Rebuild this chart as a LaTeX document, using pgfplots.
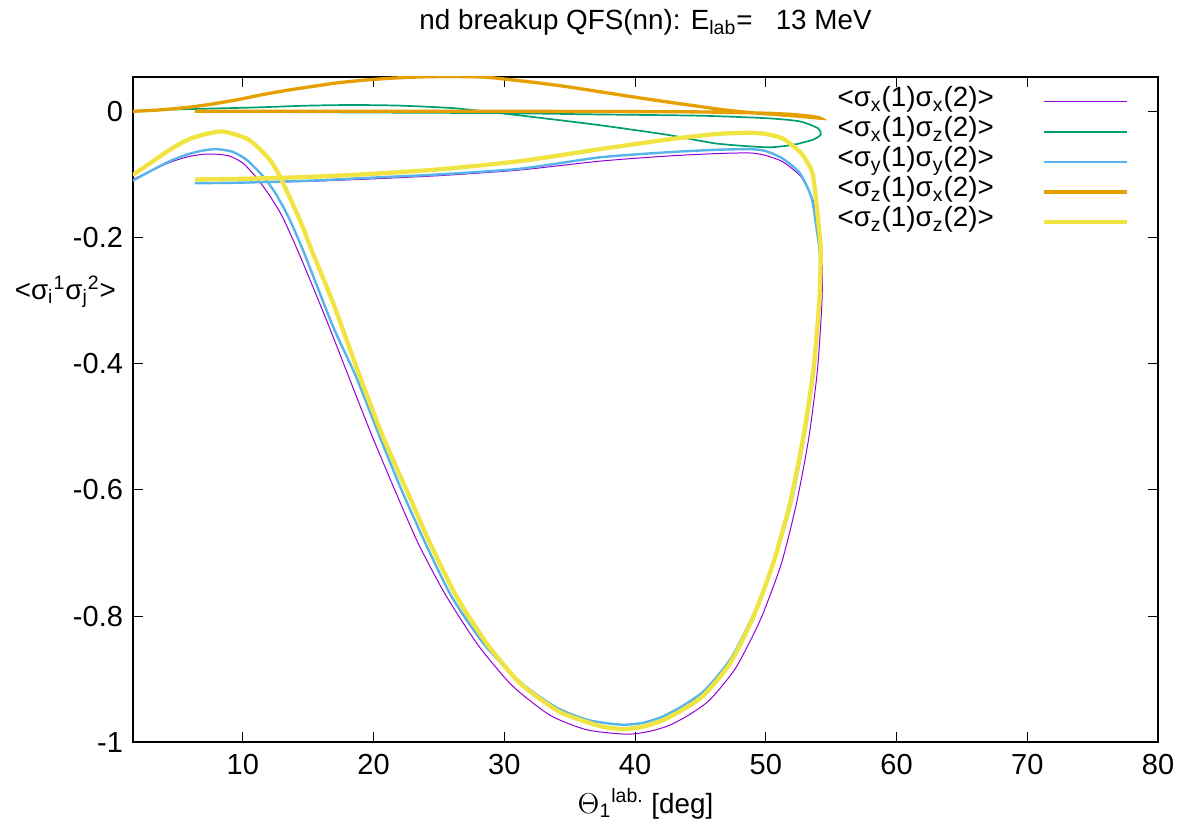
\documentclass[border=0pt]{standalone}
\usepackage{pgfplots}
\pgfplotsset{compat=1.18}
\usepackage{fontspec}
\setmainfont{Liberation Sans}
\definecolor{cpurple}{HTML}{9400D3}
\definecolor{cgreen}{HTML}{009E73}
\definecolor{cblue}{HTML}{56B4E9}
\definecolor{corange}{HTML}{E69F00}
\definecolor{cyellow}{HTML}{F0E442}
\newcommand{\sub}[1]{\textsubscript{#1}}
\newcommand{\super}[1]{\textsuperscript{#1}}
\begin{document}
\begin{tikzpicture}[font=\fontsize{13.9bp}{16bp}\selectfont]
\useasboundingbox (0,0) rectangle (600bp,420bp);
\begin{axis}[
  at={(66.5bp,48.8bp)}, anchor=south west,
  width=512.5bp, height=332.9bp, scale only axis,
  xmin=1.6, xmax=80, ymin=-1, ymax=0.055,
  xtick={10,20,30,40,50,60,70,80},
  xticklabels={10,20,30,40,50,60,70,80},
  ytick={-1,-0.8,-0.6,-0.4,-0.2,0},
  yticklabels={-1,-0.8,-0.6,-0.4,-0.2,0},
  tick align=inside, tick pos=both,
  major tick length=5bp,
  every tick/.style={black, line width=0.5bp},
  axis line style={line width=1bp},
  /pgf/number format/assume math mode=true,
  tick label style={font=\fontsize{14.5bp}{16bp}\selectfont},
  xticklabel style={yshift=-2.5bp},
  yticklabel style={xshift=-1.5bp},
  xlabel={$\Theta$\sub{1}\super{lab.} [deg]},
  xlabel style={at={(axis description cs:0.5,-0.0925)}, anchor=center},
  ylabel={<σ\sub{i}\super{1}σ\sub{j}\super{2}>},
  ylabel style={at={(axis description cs:-0.066,0.677)}, rotate=-90, anchor=center},
  title={nd breakup QFS(nn): E\sub{lab}=\ \ \ 13 MeV},
  title style={at={(axis description cs:0.5,1.063)}, anchor=center},
  legend cell align=left,
  legend plot pos=right,
  legend image code/.code={\draw[#1] (0bp,0bp) -- (41.5bp,0bp);},
  legend style={at={(axis description cs:0.687,0.985)}, anchor=north west,
    draw=none, fill=none, inner sep=0pt, row sep=0pt,
    nodes={inner sep=0pt, text height=10bp, text depth=5bp},
    /tikz/every odd column/.append style={column sep=24bp}},
]
% sigma_x sigma_x
\addplot[cpurple, line width=0.5bp, smooth, tension=0.4] coordinates {
(1.58,-0.108) (3.0,-0.094) (4.41,-0.081) (5.8,-0.072) (7.0,-0.068) (8.0,-0.068)
(9.0,-0.071) (10.0,-0.082) (11.0,-0.104) (12.0,-0.132) (13.0,-0.166) (14.1,-0.216)
(15.2,-0.270) (16.5,-0.336) (17.9,-0.410) (19.7,-0.505) (21.5,-0.594) (23.4,-0.684)
(25.5,-0.766) (28.0,-0.846) (30.6,-0.910) (33.5,-0.957) (36.3,-0.980) (39.3,-0.987)
(41.0,-0.983) (42.5,-0.974) (44.0,-0.958) (45.7,-0.933) (47.7,-0.882) (49.6,-0.805)
(51.2,-0.716) (52.35,-0.621) (53.3,-0.516) (53.95,-0.410) (54.3,-0.300) (54.3,-0.230)
(54.05,-0.190) (53.6,-0.140) (52.7,-0.104) (51.3,-0.080) (50.0,-0.070) (48.8,-0.066)
(46.2,-0.067) (42.4,-0.071) (37.3,-0.079) (31.2,-0.093) (25,-0.102) (20,-0.107)
(15,-0.111) (10,-0.113) (6.33,-0.114)
};
\addlegendentry{<σ\sub{x}(1)σ\sub{x}(2)>}
% sigma_x sigma_z
\addplot[cgreen, line width=0.85bp, smooth, tension=0.4] coordinates {
(1.58,0.000) (5,0.003) (10.8,0.006) (15,0.009) (18.4,0.010) (22,0.009) (26.1,0.005)
(29.7,-0.003) (33,-0.011) (37.3,-0.022) (42.4,-0.037) (46.2,-0.051) (50.1,-0.057)
(52.1,-0.053) (53.6,-0.045) (54.2,-0.037) (54.0,-0.027) (52.6,-0.016) (50.1,-0.011)
(45.0,-0.007) (37.3,-0.005) (30,-0.003) (20,-0.002) (10,-0.001) (6.33,-0.001)
};
\addlegendentry{<σ\sub{x}(1)σ\sub{z}(2)>}
% sigma_y sigma_y
\addplot[cblue, line width=1.2bp, smooth, tension=0.4] coordinates {
(1.58,-0.110) (3.0,-0.094) (4.41,-0.079) (5.8,-0.068) (7.0,-0.062) (8.0,-0.060)
(9.2,-0.064) (10.3,-0.077) (11.55,-0.103) (12.5,-0.130) (13.5,-0.168) (14.6,-0.220)
(16.9,-0.341) (18.65,-0.420) (20.4,-0.512) (22.14,-0.600) (24.0,-0.686) (25.97,-0.769)
(28.4,-0.843) (31.19,-0.904) (34.0,-0.945) (36.5,-0.965) (39.0,-0.972) (40.6,-0.969)
(42.0,-0.960) (43.5,-0.944) (45.3,-0.918) (47.3,-0.868) (49.1,-0.795) (50.65,-0.712)
(51.95,-0.620) (52.95,-0.515) (53.7,-0.410) (54.1,-0.300) (54.15,-0.230) (53.9,-0.188)
(53.5,-0.137) (52.6,-0.098) (51.3,-0.075) (50.0,-0.063) (48.8,-0.060) (46.2,-0.061)
(42.4,-0.065) (37.3,-0.073) (31.2,-0.091) (25,-0.100) (20,-0.105) (15,-0.110)
(10,-0.113) (6.33,-0.114)
};
\addlegendentry{<σ\sub{y}(1)σ\sub{y}(2)>}
% sigma_z sigma_x
\addplot[corange, line width=1.65bp, smooth, tension=0.4] coordinates {
(1.58,0.000) (3.5,0.002) (5.7,0.006) (7.5,0.011) (9.5,0.018) (11.4,0.026) (13.3,0.033)
(15.2,0.039) (17.2,0.045) (19.1,0.049) (21.0,0.052) (22.9,0.054) (24.8,0.055) (26.7,0.055)
(28.6,0.054) (30.5,0.050) (32.6,0.045) (34.8,0.039) (37.3,0.031) (39.8,0.023) (42.4,0.015)
(45.0,0.0075) (46.9,0.002) (48.8,-0.002) (50.7,-0.005) (52.6,-0.008) (54.2,-0.011)
(53.5,-0.008) (52.0,-0.005) (50.0,-0.003) (45.0,-0.001) (40,-0.0005) (30,0.000)
(20,0.000) (10,0.000) (6.33,0.000)
};
\addlegendentry{<σ\sub{z}(1)σ\sub{x}(2)>}
% sigma_z sigma_z
\addplot[cyellow, line width=2.15bp, smooth, tension=0.4] coordinates {
(1.58,-0.101) (3.0,-0.081) (4.41,-0.061) (5.8,-0.045) (6.96,-0.037) (8.49,-0.032)
(10.28,-0.043) (11.2,-0.058) (12.07,-0.077) (12.83,-0.103) (14.36,-0.172) (15.26,-0.220)
(16.91,-0.304) (18.95,-0.420) (20.73,-0.516) (22.52,-0.600) (24.31,-0.684) (26.35,-0.769)
(28.65,-0.843) (31.19,-0.906) (34.0,-0.949) (35.78,-0.964) (37.5,-0.975) (39.1,-0.979)
(40.6,-0.975) (42.0,-0.966) (43.5,-0.950) (45.22,-0.926) (47.26,-0.875) (49.05,-0.801)
(50.57,-0.716) (51.85,-0.621) (52.87,-0.516) (53.64,-0.410) (54.1,-0.299) (54.2,-0.220)
(54.0,-0.172) (53.6,-0.100) (53.0,-0.075) (52.6,-0.064) (51.3,-0.043) (50.0,-0.036)
(48.8,-0.034) (46.2,-0.036) (42.4,-0.045) (37.3,-0.060) (31.2,-0.079) (25,-0.092)
(20,-0.099) (15,-0.104) (10,-0.107) (6.33,-0.108)
};
\addlegendentry{<σ\sub{z}(1)σ\sub{z}(2)>}
\end{axis}
\end{tikzpicture}
\end{document}
